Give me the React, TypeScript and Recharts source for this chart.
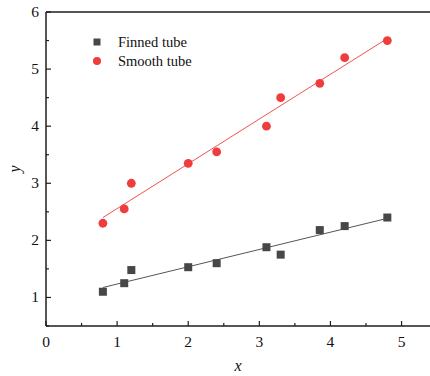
import { ScatterChart, Scatter, XAxis, YAxis, ReferenceLine } from 'recharts';

const xValues = [0.8, 1.1, 1.2, 2.0, 2.4, 3.1, 3.3, 3.85, 4.2, 4.8];
const finnedY = [1.1, 1.25, 1.48, 1.53, 1.6, 1.88, 1.75, 2.18, 2.25, 2.4];
const smoothY = [2.3, 2.55, 3.0, 3.35, 3.55, 4.0, 4.5, 4.75, 5.2, 5.5];

const xTicks = [0, 0.5, 1, 1.5, 2, 2.5, 3, 3.5, 4, 4.5, 5];
const yTicks = [0.5, 1, 1.5, 2, 2.5, 3, 3.5, 4, 4.5, 5, 5.5, 6];

const SERIES = [
  { name: 'Finned tube', color: '#474747', lineColor: '#555555', shape: 'square' },
  { name: 'Smooth tube', color: '#ef3c3c', lineColor: '#f25252', shape: 'circle' },
];

const FONT = "'Liberation Serif', 'Times New Roman', Times, serif";
const INK = '#1e1e1e';

const finnedData = xValues.map((x, i) => ({ x, y: finnedY[i] }));
const smoothData = xValues.map((x, i) => ({ x, y: smoothY[i] }));

const XTick = (props: any) => {
  const { x, y, payload } = props;
  const major = Number.isInteger(payload.value);
  return (
    <g>
      <line x1={x} x2={x} y1={y} y2={y - (major ? 5 : 3)} stroke={INK} strokeWidth={1.2} />
      {major && (
        <text x={x} y={y + 21} textAnchor="middle" style={{ fontFamily: FONT }} fontSize={15.5} fill="#111">
          {payload.value}
        </text>
      )}
    </g>
  );
};

const YTick = (props: any) => {
  const { x, y, payload } = props;
  const major = Number.isInteger(payload.value);
  return (
    <g>
      <line x1={x} x2={x + (major ? 5 : 3)} y1={y} y2={y} stroke={INK} strokeWidth={1.2} />
      {major && (
        <text x={x - 7} y={y + 5} textAnchor="end" style={{ fontFamily: FONT }} fontSize={15.5} fill="#111">
          {payload.value}
        </text>
      )}
    </g>
  );
};

const Square = (props: any) => (
  <rect x={props.cx - 4} y={props.cy - 4} width={8} height={8} fill={SERIES[0].color} />
);
const Dot = (props: any) => <circle cx={props.cx} cy={props.cy} r={4.4} fill={SERIES[1].color} />;

// legend drawn as an overlay so it doesn't eat into the plot area
const LegendBox = () => (
  <div
    style={{
      position: 'absolute',
      left: 88,
      top: 33,
      fontFamily: FONT,
      fontSize: 14.5,
      color: '#111',
      lineHeight: '18.5px',
    }}
  >
    {SERIES.map((s) => (
      <div key={s.name} style={{ display: 'flex', alignItems: 'center', height: 18.5 }}>
        <svg width={18} height={18}>
          {s.shape === 'square' ? (
            <rect x={5.5} y={5.5} width={7} height={7} fill={s.color} />
          ) : (
            <circle cx={9} cy={9} r={4} fill={s.color} />
          )}
        </svg>
        <span style={{ marginLeft: 12 }}>{s.name}</span>
      </div>
    ))}
  </div>
);

export default function App() {
  return (
    <div style={{ position: 'absolute', left: 0, top: 0, width: 430, height: 376, background: '#fff' }}>
      <ScatterChart width={430} height={376} margin={{ top: 12, right: 0, left: 0, bottom: 0 }}>
        <XAxis
          dataKey="x"
          type="number"
          domain={[0, 5.4]}
          ticks={xTicks}
          interval={0}
          height={50}
          tickSize={0}
          tickMargin={0}
          tickLine={false}
          tick={<XTick />}
          axisLine={{ stroke: INK, strokeWidth: 1.5 }}
          label={{
            content: (p: any) => (
              <text
                x={p.viewBox.x + p.viewBox.width / 2}
                y={p.viewBox.y + 45}
                textAnchor="middle"
                style={{ fontFamily: FONT }}
                fontStyle="italic"
                fontSize={16}
                fill="#111"
              >
                x
              </text>
            ),
          }}
        />
        <YAxis
          dataKey="y"
          type="number"
          domain={[0.5, 6]}
          ticks={yTicks}
          interval={0}
          width={46}
          tickSize={0}
          tickMargin={0}
          tickLine={false}
          tick={<YTick />}
          axisLine={{ stroke: INK, strokeWidth: 1.5 }}
          label={{
            content: (p: any) => {
              const cy = p.viewBox.y + p.viewBox.height / 2;
              return (
                <text
                  x={20}
                  y={cy}
                  transform={`rotate(-90, 20, ${cy})`}
                  textAnchor="middle"
                  style={{ fontFamily: FONT }}
                  fontStyle="italic"
                  fontSize={16}
                  fill="#111"
                >
                  y
                </text>
              );
            },
          }}
        />
        <ReferenceLine y={6} stroke={INK} strokeWidth={1.5} />
        <Scatter
          name={SERIES[0].name}
          data={finnedData}
          shape={<Square />}
          line={{ stroke: SERIES[0].lineColor, strokeWidth: 1 }}
          lineType="fitting"
          isAnimationActive={false}
        />
        <Scatter
          name={SERIES[1].name}
          data={smoothData}
          shape={<Dot />}
          line={{ stroke: SERIES[1].lineColor, strokeWidth: 1 }}
          lineType="fitting"
          isAnimationActive={false}
        />
      </ScatterChart>
      <LegendBox />
    </div>
  );
}
